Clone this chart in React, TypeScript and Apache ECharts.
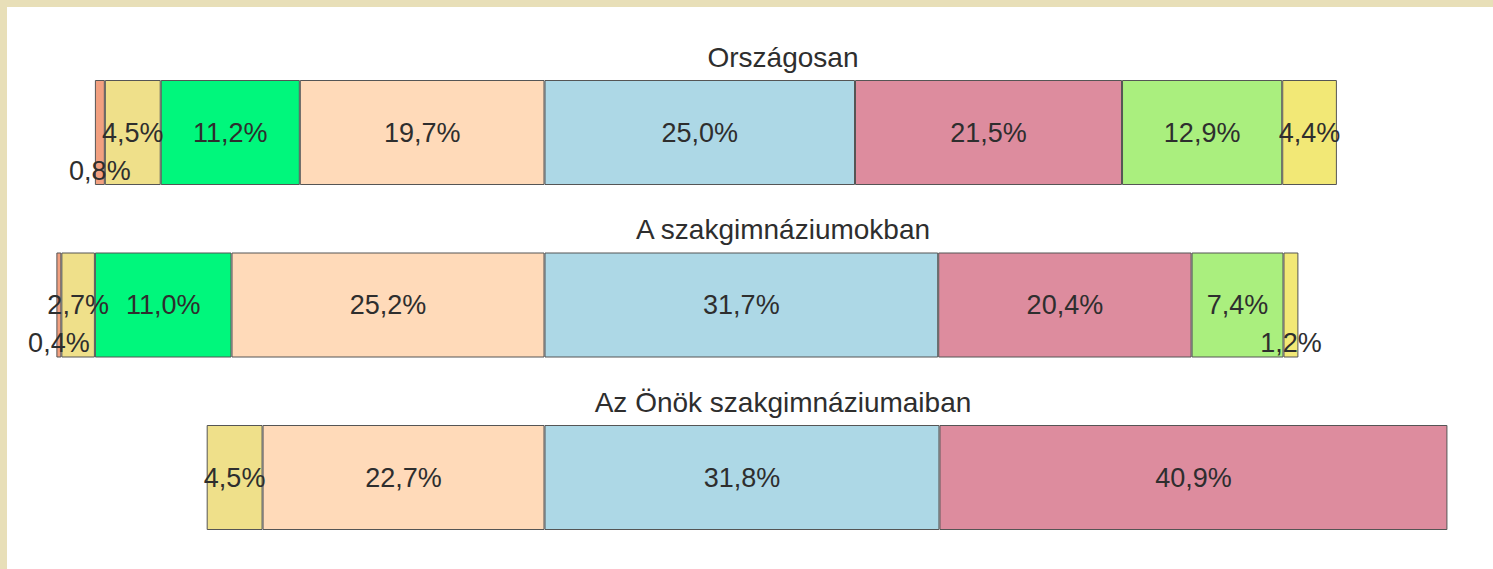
import React, { useEffect, useRef } from 'react';
import * as echarts from 'echarts';

// Group titles (one bar each)
const groups = ['Országosan', 'A szakgimnáziumokban', 'Az Önök szakgimnáziumaiban'];

// Left of the centre line (outermost -> innermost)
const orangeVals: (number | null)[] = [0.8, 0.4, null];
const khakiVals: (number | null)[] = [4.5, 2.7, 4.5];
const greenVals: (number | null)[] = [11.2, 11.0, null];
const peachVals: (number | null)[] = [19.7, 25.2, 22.7];
// Right of the centre line (innermost -> outermost)
const blueVals: (number | null)[] = [25.0, 31.7, 31.8];
const pinkVals: (number | null)[] = [21.5, 20.4, 40.9];
const lightGreenVals: (number | null)[] = [12.9, 7.4, null];
const yellowVals: (number | null)[] = [4.4, 1.2, null];

const FONT = "'Liberation Sans', Arial, sans-serif";
const W = 1493;
const H = 569;
const GRID_TOP = 46.25;
const BAND = 172.5;

function fmt(v: number) {
  return Math.abs(v).toFixed(1).replace('.', ',') + '%';
}

function makeSeries(name: string, vals: (number | null)[], color: string, negative: boolean) {
  return {
    name,
    type: 'bar',
    stack: 'total',
    barWidth: 105,
    itemStyle: { color, borderColor: '#555555', borderWidth: 1 },
    label: {
      show: true,
      position: 'inside',
      color: '#2e2e2e',
      fontFamily: FONT,
      fontSize: 27,
      formatter: (p: any) => (p.value == null ? '' : fmt(p.value)),
    },
    data: vals.map((v) => {
      if (v == null) return null;
      const value = negative ? -v : v;
      if (v < 2) return { value, label: { offset: [0, 38] } };
      return value;
    }),
  };
}

export default function App() {
  const ref = useRef<HTMLDivElement>(null);
  useEffect(() => {
    if (!ref.current) return;
    const chart = echarts.init(ref.current, undefined, { renderer: 'svg' });
    const titleGraphics = groups.map((g, i) => ({
      type: 'text',
      x: 783,
      y: GRID_TOP + BAND * (i + 0.5) - 75.5,
      style: {
        text: g,
        fill: '#2e2e2e',
        font: `28px ${FONT}`,
        textAlign: 'center',
        textVerticalAlign: 'middle',
      },
      z: 100,
    }));
    chart.setOption({
      animation: false,
      backgroundColor: '#ffffff',
      grid: { left: 47.7, right: 17, top: GRID_TOP, bottom: H - GRID_TOP - BAND * 3, containLabel: false },
      xAxis: {
        type: 'value',
        min: -40,
        max: 75,
        show: false,
        splitLine: { show: false },
      },
      yAxis: {
        type: 'category',
        data: groups,
        inverse: true,
        show: false,
      },
      graphic: [
        { type: 'rect', shape: { x: 0, y: 0, width: W, height: 7 }, style: { fill: '#e8dfb8' }, z: 200 },
        { type: 'rect', shape: { x: 0, y: 0, width: 7, height: H }, style: { fill: '#e8dfb8' }, z: 200 },
        ...titleGraphics,
      ],
      series: [
        makeSeries('peach', peachVals, '#ffdab9', true),
        makeSeries('green', greenVals, '#00f77c', true),
        makeSeries('khaki', khakiVals, '#efe08a', true),
        makeSeries('orange', orangeVals, '#f2a080', true),
        makeSeries('blue', blueVals, '#add8e6', false),
        makeSeries('pink', pinkVals, '#dd8c9e', false),
        makeSeries('lightgreen', lightGreenVals, '#aaef7e', false),
        makeSeries('yellow', yellowVals, '#f2e876', false),
      ],
    });
    return () => chart.dispose();
  }, []);
  return (
    <div style={{ position: 'fixed', left: 0, top: 0, width: W, height: H }}>
      <div ref={ref} style={{ width: W, height: H }} />
    </div>
  );
}
